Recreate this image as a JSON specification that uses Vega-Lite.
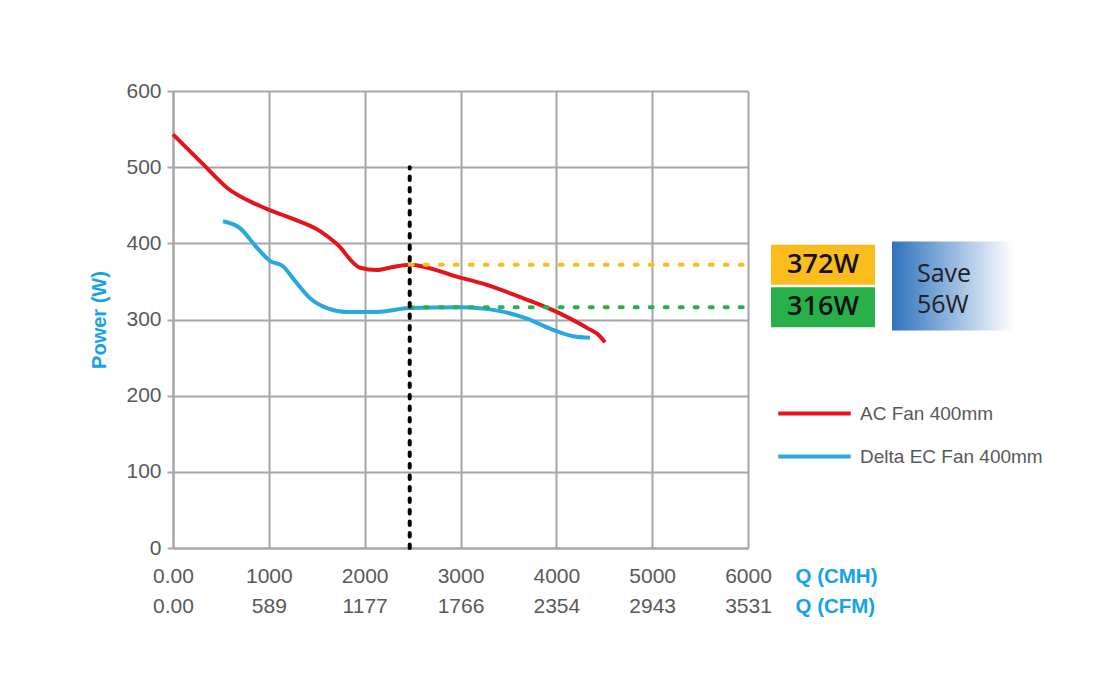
{
  "$schema": "https://vega.github.io/schema/vega-lite/v6.json",
  "background": "white",
  "autosize": {"type": "pad"},
  "padding": {"left": 89, "top": 80, "right": 5, "bottom": 5},
  "bounds": "flush",
  "spacing": 12,
  "datasets": {
    "curves": [
      {"series": "AC Fan 400mm", "q": 0, "p": 543},
      {"series": "AC Fan 400mm", "q": 313, "p": 504},
      {"series": "AC Fan 400mm", "q": 563, "p": 473},
      {"series": "AC Fan 400mm", "q": 908, "p": 449},
      {"series": "AC Fan 400mm", "q": 1252, "p": 432},
      {"series": "AC Fan 400mm", "q": 1534, "p": 416},
      {"series": "AC Fan 400mm", "q": 1711, "p": 399},
      {"series": "AC Fan 400mm", "q": 1951, "p": 368},
      {"series": "AC Fan 400mm", "q": 2129, "p": 365},
      {"series": "AC Fan 400mm", "q": 2296, "p": 369},
      {"series": "AC Fan 400mm", "q": 2470, "p": 372},
      {"series": "AC Fan 400mm", "q": 2995, "p": 355},
      {"series": "AC Fan 400mm", "q": 3235, "p": 347},
      {"series": "AC Fan 400mm", "q": 3590, "p": 331},
      {"series": "AC Fan 400mm", "q": 3934, "p": 314},
      {"series": "AC Fan 400mm", "q": 4320, "p": 289},
      {"series": "AC Fan 400mm", "q": 4456, "p": 278},
      {"series": "AC Fan 400mm", "q": 4508, "p": 270},
      {"series": "Delta EC  Fan 400mm", "q": 522, "p": 429},
      {"series": "Delta EC  Fan 400mm", "q": 699, "p": 420},
      {"series": "Delta EC  Fan 400mm", "q": 877, "p": 394},
      {"series": "Delta EC  Fan 400mm", "q": 1012, "p": 377},
      {"series": "Delta EC  Fan 400mm", "q": 1148, "p": 370},
      {"series": "Delta EC  Fan 400mm", "q": 1252, "p": 354},
      {"series": "Delta EC  Fan 400mm", "q": 1430, "p": 328},
      {"series": "Delta EC  Fan 400mm", "q": 1607, "p": 315},
      {"series": "Delta EC  Fan 400mm", "q": 1816, "p": 310},
      {"series": "Delta EC  Fan 400mm", "q": 2129, "p": 310},
      {"series": "Delta EC  Fan 400mm", "q": 2470, "p": 315},
      {"series": "Delta EC  Fan 400mm", "q": 2995, "p": 316},
      {"series": "Delta EC  Fan 400mm", "q": 3412, "p": 311},
      {"series": "Delta EC  Fan 400mm", "q": 3694, "p": 301},
      {"series": "Delta EC  Fan 400mm", "q": 3934, "p": 288},
      {"series": "Delta EC  Fan 400mm", "q": 4174, "p": 278},
      {"series": "Delta EC  Fan 400mm", "q": 4351, "p": 276}
    ],
    "levels": [
      {"series": "AC", "label": "372W", "q0": 2470, "q1": 6000, "p": 372},
      {"series": "EC", "label": "316W", "q0": 2470, "q1": 6000, "p": 316}
    ],
    "marker": [
      {"q": 2470, "p0": 0, "p1": 500}
    ]
  },
  "config": {
    "view": {"stroke": null},
    "font": "Liberation Sans"
  },
  "hconcat": [
    {
      "width": 575,
      "height": 457,
      "layer": [
        {
          "data": {"name": "curves"},
          "mark": {"type": "line", "strokeWidth": 4, "interpolate": "monotone"},
          "encoding": {
            "x": {
              "field": "q", "type": "quantitative",
              "scale": {"domain": [0, 6000], "nice": false, "zero": true},
              "axis": {
                "values": [0, 1000, 2000, 3000, 4000, 5000, 6000],
                "labelExpr": "datum.value == 0 ? ['0.00','0.00'] : datum.value == 1000 ? ['1000','589'] : datum.value == 2000 ? ['2000','1177'] : datum.value == 3000 ? ['3000','1766'] : datum.value == 4000 ? ['4000','2354'] : datum.value == 5000 ? ['5000','2943'] : ['6000','3531']",
                "labelLineHeight": 30,
                "labelFontSize": 21,
                "labelColor": "#595959",
                "labelFlush": false,
                "labelOverlap": false,
                "labelPadding": 17,
                "ticks": false,
                "grid": true,
                "gridColor": "#a6a6a6",
                "gridWidth": 2,
                "domainColor": "#a6a6a6",
                "domainWidth": 2,
                "title": ["Q (CMH)", "Q (CFM)"],
                "titleX": 622,
                "titleY": 34,
                "titleAlign": "left",
                "titleAnchor": "start",
                "titleBaseline": "alphabetic",
                "titleFontSize": 20.5,
                "titleFontWeight": "bold",
                "titleColor": "#15a2e6",
                "titleLineHeight": 30
              }
            },
            "y": {
              "field": "p", "type": "quantitative",
              "scale": {"domain": [0, 600], "nice": false},
              "axis": {
                "values": [0, 100, 200, 300, 400, 500, 600],
                "labelFontSize": 21,
                "labelColor": "#595959",
                "labelFlush": false,
                "labelOverlap": false,
                "labelPadding": 6,
                "tickSize": 6,
                "tickColor": "#a6a6a6",
                "tickWidth": 2,
                "grid": true,
                "gridColor": "#a6a6a6",
                "gridWidth": 2,
                "domainColor": "#a6a6a6",
                "domainWidth": 2,
                "title": "Power (W)",
                "titleFontSize": 20,
                "titleFontWeight": "bold",
                "titleColor": "#15a2e6",
                "titlePadding": 16
              }
            },
            "color": {
              "field": "series", "type": "nominal",
              "scale": {"domain": ["AC Fan 400mm", "Delta EC  Fan 400mm"], "range": ["#e3141b", "#29a8e0"]},
              "legend": {
                "orient": "none",
                "legendX": 625,
                "legendY": 306,
                "title": null,
                "padding": 0,
                "symbolType": "M-2.5,0H2.5",
                "symbolSize": 841,
                "symbolStrokeWidth": 4,
                "labelFontSize": 19,
                "labelColor": "#595959",
                "labelLimit": 400,
                "labelOffset": 29,
                "rowPadding": 16
              }
            }
          }
        },
        {
          "data": {"name": "levels"},
          "mark": {"type": "rule", "strokeWidth": 4, "strokeDash": [3, 12], "strokeCap": "round"},
          "encoding": {
            "x": {"field": "q0", "type": "quantitative"},
            "x2": {"field": "q1"},
            "y": {"field": "p", "type": "quantitative"},
            "stroke": {
              "field": "series", "type": "nominal",
              "scale": {"domain": ["AC", "EC"], "range": ["#fbbc1e", "#28b04b"]},
              "legend": null
            }
          }
        },
        {
          "data": {"name": "marker"},
          "mark": {"type": "rule", "strokeWidth": 4, "strokeDash": [3.5, 8], "strokeCap": "round", "color": "black"},
          "encoding": {
            "x": {"field": "q", "type": "quantitative"},
            "y": {"field": "p0", "type": "quantitative"},
            "y2": {"field": "p1"}
          }
        }
      ]
    },
    {
      "width": 280,
      "height": 457,
      "data": {"name": "levels"},
      "layer": [
        {
          "mark": {"type": "point", "shape": "M-1,-0.385H1V0.385H-1Z", "size": 10816, "filled": true, "opacity": 1, "strokeWidth": 0},
          "encoding": {
            "x": {"datum": "value", "type": "ordinal", "scale": {"type": "point", "domain": ["value", "saving"], "range": [63, 196], "padding": 0}, "axis": null},
            "y": {"field": "p", "type": "quantitative", "scale": {"domain": [0, 600], "nice": false}, "axis": null},
            "fill": {
              "field": "series", "type": "nominal",
              "scale": {"domain": ["AC", "EC"], "range": ["#fbbc1e", "#28b04b"]},
              "legend": null
            }
          }
        },
        {
          "mark": {"type": "text", "font": "Open Sans", "fontSize": 27, "fontWeight": 600, "color": "#111111", "baseline": "middle", "align": "center"},
          "encoding": {
            "x": {"datum": "value", "type": "ordinal"},
            "y": {"field": "p", "type": "quantitative"},
            "text": {"field": "label"}
          }
        },
        {
          "mark": {
            "type": "point", "shape": "M-1,-0.695H1V0.695H-1Z", "size": 16384, "filled": true, "opacity": 1, "strokeWidth": 0,
            "fill": {"gradient": "linear", "x1": 0, "x2": 1, "y1": 0, "y2": 0, "stops": [{"offset": 0, "color": "#2e72bf"}, {"offset": 0.95, "color": "#ffffff"}]}
          },
          "encoding": {
            "x": {"datum": "saving", "type": "ordinal"},
            "y": {"aggregate": "mean", "field": "p", "type": "quantitative"}
          }
        },
        {
          "mark": {"type": "text", "text": ["Save", "56W"], "font": "Open Sans", "fontSize": 25, "lineHeight": 31, "color": "#222222", "baseline": "middle", "align": "left", "dx": -39, "dy": -12},
          "encoding": {
            "x": {"datum": "saving", "type": "ordinal"},
            "y": {"aggregate": "mean", "field": "p", "type": "quantitative"}
          }
        }
      ]
    }
  ]
}
